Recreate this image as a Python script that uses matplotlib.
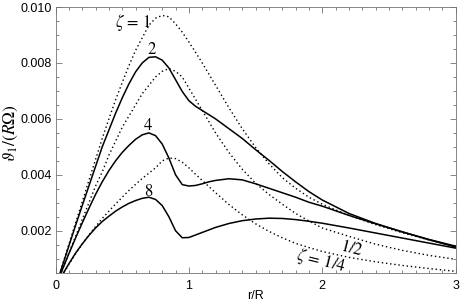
import matplotlib
matplotlib.use("Agg")
import matplotlib.pyplot as plt
from matplotlib.ticker import MultipleLocator

plt.rcParams['mathtext.fontset'] = 'stix'

# radius grid r/R
r = [0, 0.05, 0.1, 0.15, 0.2, 0.25, 0.3, 0.35, 0.4, 0.45, 0.5, 0.55, 0.6, 0.65,
     0.7, 0.75, 0.8, 0.85, 0.9, 0.95, 1.0, 1.05, 1.1, 1.15, 1.2, 1.3, 1.4, 1.5,
     1.6, 1.7, 1.8, 1.9, 2.0, 2.2, 2.4, 2.6, 2.8, 3.0]

# dotted curves (zeta = 1, 1/2, 1/4)
v_z1 = [0, 0.00076, 0.00152, 0.00228, 0.00304, 0.0038, 0.00455, 0.0053, 0.0060, 0.00668,
        0.0073, 0.0079, 0.00845, 0.0089, 0.00935, 0.0096, 0.0097, 0.00965, 0.0094, 0.0091,
        0.00875, 0.00838, 0.0080, 0.0076, 0.0072, 0.0064, 0.00565, 0.00498,
        0.0044, 0.0039, 0.00352, 0.0032, 0.00295, 0.00255, 0.00222, 0.00193, 0.00167, 0.00143]
v_z12 = [0, 0.0006, 0.0012, 0.0018, 0.0024, 0.0030, 0.0036, 0.0041, 0.0047, 0.0052,
         0.0057, 0.0061, 0.0065, 0.0069, 0.0072, 0.0075, 0.0077, 0.0078, 0.0077, 0.0075,
         0.0071, 0.0067, 0.0063, 0.0059, 0.0055, 0.0048, 0.0042, 0.0037,
         0.0033, 0.00295, 0.00262, 0.00235, 0.0021, 0.0018, 0.00152, 0.0013, 0.00112, 0.00098]
v_z14 = [0, 0.0004, 0.0008, 0.00118, 0.00152, 0.00185, 0.00215, 0.00244, 0.0027, 0.00296,
         0.0032, 0.00344, 0.00366, 0.00387, 0.00406, 0.00425, 0.0045, 0.0046, 0.00458, 0.00445,
         0.00425, 0.00402, 0.0038, 0.00358, 0.00336, 0.00294, 0.00257, 0.00225,
         0.00198, 0.00175, 0.00155, 0.0014, 0.00126, 0.00105, 0.00089, 0.00076, 0.00065, 0.00055]

# solid curves (2, 4, 8)
v_2 = [0, 0.00073, 0.00146, 0.00219, 0.0029, 0.0036, 0.0043, 0.0050, 0.0056, 0.0062,
       0.00675, 0.00725, 0.00768, 0.0080, 0.0082, 0.00822, 0.0081, 0.00782, 0.0074, 0.00698,
       0.00665, 0.00645, 0.0063, 0.00615, 0.0060, 0.00565, 0.0053, 0.0049,
       0.00452, 0.00412, 0.00375, 0.0034, 0.0031, 0.00262, 0.00226, 0.00196, 0.00169, 0.00145]
v_4 = [0, 0.0006, 0.00118, 0.00174, 0.00228, 0.0028, 0.0033, 0.00375, 0.00415, 0.0045,
       0.0048, 0.00505, 0.00527, 0.00543, 0.0055, 0.0054, 0.0051, 0.0046, 0.0040, 0.00365,
       0.0036, 0.00362, 0.00368, 0.00375, 0.0038, 0.00386, 0.00382, 0.00368,
       0.00352, 0.00336, 0.0032, 0.00302, 0.00288, 0.00255, 0.00225, 0.00196, 0.00168, 0.00142]
v_8 = [0, 0.00042, 0.00082, 0.0012, 0.00153, 0.00183, 0.0021, 0.00233, 0.00252, 0.0027,
       0.00285, 0.00298, 0.00308, 0.00316, 0.0032, 0.00312, 0.0029, 0.0025, 0.0020, 0.00175,
       0.00176, 0.00185, 0.00194, 0.00203, 0.00212, 0.00226, 0.00236, 0.00242,
       0.00245, 0.00244, 0.0024, 0.00234, 0.00227, 0.0021, 0.00192, 0.00174, 0.00156, 0.00138]

fig = plt.figure(figsize=(4.63, 3.05), dpi=100)
ax = fig.add_axes([0.120, 0.104, 0.864, 0.873])

dot = (0, (1, 2))
for v in (v_z1, v_z12, v_z14):
    ax.plot(r, v, color='black', lw=1.0, linestyle=dot)
for v in (v_2, v_4, v_8):
    ax.plot(r, v, color='black', lw=1.1)

ax.set_xlim(0, 3)
ax.set_ylim(0.00048, 0.010)
ax.xaxis.set_minor_locator(MultipleLocator(0.1))
ax.yaxis.set_minor_locator(MultipleLocator(0.0005))
ax.set_xticks([0, 1, 2, 3])
ax.set_xticklabels(['0', '1', '2', '3'])
ax.set_yticks([0.002, 0.004, 0.006, 0.008, 0.010])
ax.set_yticklabels(['0.002', '0.004', '0.006', '0.008', '0.010'])

ax.tick_params(which='both', direction='in', top=True, right=True,
               color='0.45', labelsize=9, width=0.6)
ax.tick_params(which='major', length=4)
ax.tick_params(which='minor', length=2.5)
ax.tick_params(axis='x', pad=5)
ax.tick_params(axis='y', pad=3)
for lab in ax.get_xticklabels() + ax.get_yticklabels():
    lab.set_family('Liberation Sans')
for s in ax.spines.values():
    s.set_color('0.45')
    s.set_linewidth(0.6)

ax.set_xlabel('r/R', fontsize=9, family='Liberation Sans')
ax.xaxis.set_label_coords(0.5, -0.086)
ax.xaxis.label.set_va('center')
ax.set_ylabel(r'$\vartheta_1/(R\Omega)$', fontsize=12.5)
ax.yaxis.set_label_coords(-0.112, 0.526)
ax.yaxis.label.set_va('center')

ax.text(0.58, 0.00946, r'$\zeta\,=\,1$', fontsize=12, ha='center', va='center')
ax.text(0.72, 0.00846, '2', fontsize=12, ha='center', va='center', family='STIXGeneral')
ax.text(0.69, 0.00573, '4', fontsize=12, ha='center', va='center', family='STIXGeneral')
ax.text(0.696, 0.00339, '8', fontsize=12, ha='center', va='center', family='STIXGeneral')
ax.text(2.22, 0.00138, r'$1/2$', fontsize=12, ha='center', va='center', rotation=-14)
ax.text(1.99, 0.00092, r'$\zeta\,=\,1/4$', fontsize=12, ha='center', va='center', rotation=-14)

fig.savefig('out.png', dpi=100)
